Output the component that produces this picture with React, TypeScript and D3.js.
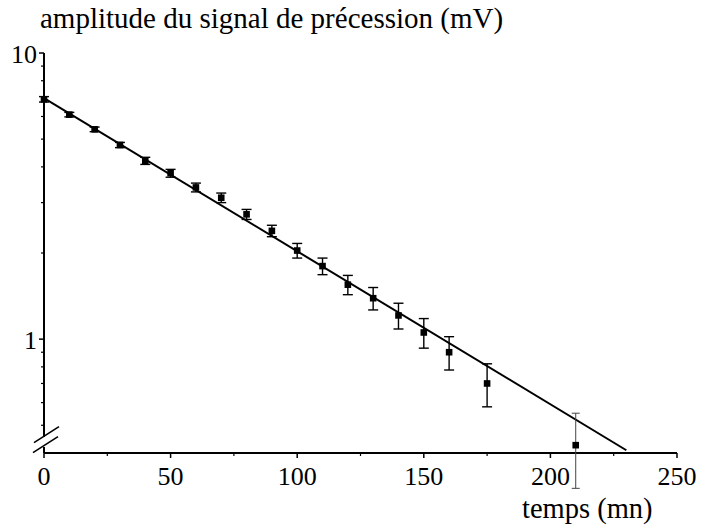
import React from "react";
import * as d3 from "d3";

const times = [0, 10, 20, 30, 40, 50, 60, 70, 80, 90, 100, 110, 120, 130, 140, 150, 160, 175, 210];
const amps = [6.89, 6.09, 5.41, 4.77, 4.2, 3.8, 3.39, 3.12, 2.73, 2.39, 2.04, 1.8, 1.55, 1.39, 1.21, 1.055, 0.9, 0.7, 0.426];
const errs = [0.15, 0.11, 0.1, 0.1, 0.12, 0.12, 0.12, 0.12, 0.11, 0.11, 0.12, 0.12, 0.12, 0.125, 0.125, 0.125, 0.12, 0.12, 0.125];

const fitT = [0, 230];
const fitV = [6.95, 0.409];

const xMajor = [0, 50, 100, 150, 200, 250];
const xMinor = [25, 75, 125, 175, 225];
const yMajor = [1, 10];
const yMinor = [0.5, 0.6, 0.7, 0.8, 0.9, 2, 3, 4, 5, 6, 7, 8, 9];

const title = "amplitude du signal de précession (mV)";
const xTitle = "temps (mn)";

const W = 703;
const H = 527;
const FONT = "'Liberation Serif', 'Times New Roman', serif";

export default function App() {
  const x = d3.scaleLinear().domain([0, 250]).range([44, 677]);
  const y = d3.scaleLog().domain([0.4, 10]).range([453, 53]);
  const x0 = x(0);
  const yb = y(0.4);
  const line = d3
    .line<number>()
    .x((_, i) => x(fitT[i]))
    .y((d) => y(d));

  const n = times.length;
  return (
    <svg
      width={W}
      height={H}
      style={{ position: "absolute", left: 0, top: 0, background: "#fff" }}
      fontFamily={FONT}
    >
      <rect width={W} height={H} fill="#fff" />
      {/* title */}
      <text x={40} y={28} fontSize={29} fill="#000">
        {title}
      </text>
      {/* x axis */}
      <line x1={x0} x2={x(250)} y1={yb} y2={yb} stroke="#000" strokeWidth={2} />
      {xMajor.map((t) => (
        <g key={"xm" + t}>
          <line x1={x(t)} x2={x(t)} y1={yb} y2={yb + 5} stroke="#000" strokeWidth={1.5} />
          <text x={x(t)} y={485} fontSize={26} textAnchor="middle" fill="#000">
            {t}
          </text>
        </g>
      ))}
      {xMinor.map((t) => (
        <line key={"xn" + t} x1={x(t)} x2={x(t)} y1={yb} y2={yb + 3} stroke="#000" strokeWidth={1.2} />
      ))}
      <text x={522} y={518} fontSize={28.5} fill="#000">
        {xTitle}
      </text>
      {/* y axis with break */}
      <line x1={x0} x2={x0} y1={y(10)} y2={437} stroke="#000" strokeWidth={2} />
      <line x1={x0} x2={x0} y1={447} y2={yb} stroke="#000" strokeWidth={2} />
      <line x1={x0 - 10} y1={442.7} x2={x0 + 15} y2={426.7} stroke="#000" strokeWidth={1.6} />
      <line x1={x0 - 11} y1={452.7} x2={x0 + 14} y2={436.7} stroke="#000" strokeWidth={1.6} />
      {yMajor.map((v) => (
        <g key={"ym" + v}>
          <line x1={x0 - 5} x2={x0} y1={y(v)} y2={y(v)} stroke="#000" strokeWidth={1.5} />
          <text x={37} y={y(v) + 10} fontSize={26} textAnchor="end" fill="#000">
            {v}
          </text>
        </g>
      ))}
      {yMinor.map((v) => (
        <line key={"yn" + v} x1={x0 - 3} x2={x0} y1={y(v)} y2={y(v)} stroke="#000" strokeWidth={1.2} />
      ))}
      {/* fit line */}
      <path d={line(fitV) || ""} fill="none" stroke="#000" strokeWidth={2} />
      {/* error bars */}
      {times.map((t, i) => {
        const last = i === n - 1;
        const c = last ? "#444" : "#000";
        const sw = last ? 1 : 1.4;
        const top = y(amps[i] + errs[i]);
        const bot = y(amps[i] - errs[i]);
        const hw = last ? 4 : 5;
        return (
          <g key={"e" + t}>
            <line x1={x(t)} x2={x(t)} y1={top} y2={bot} stroke={c} strokeWidth={sw} />
            <line x1={x(t) - hw} x2={x(t) + hw} y1={top} y2={top} stroke={c} strokeWidth={sw} />
            <line x1={x(t) - hw} x2={x(t) + hw} y1={bot} y2={bot} stroke={c} strokeWidth={sw} />
          </g>
        );
      })}
      {/* markers */}
      {times.map((t, i) => (
        <rect key={"p" + t} x={x(t) - 3.3} y={y(amps[i]) - 3.3} width={6.6} height={6.6} fill="#000" />
      ))}
    </svg>
  );
}
